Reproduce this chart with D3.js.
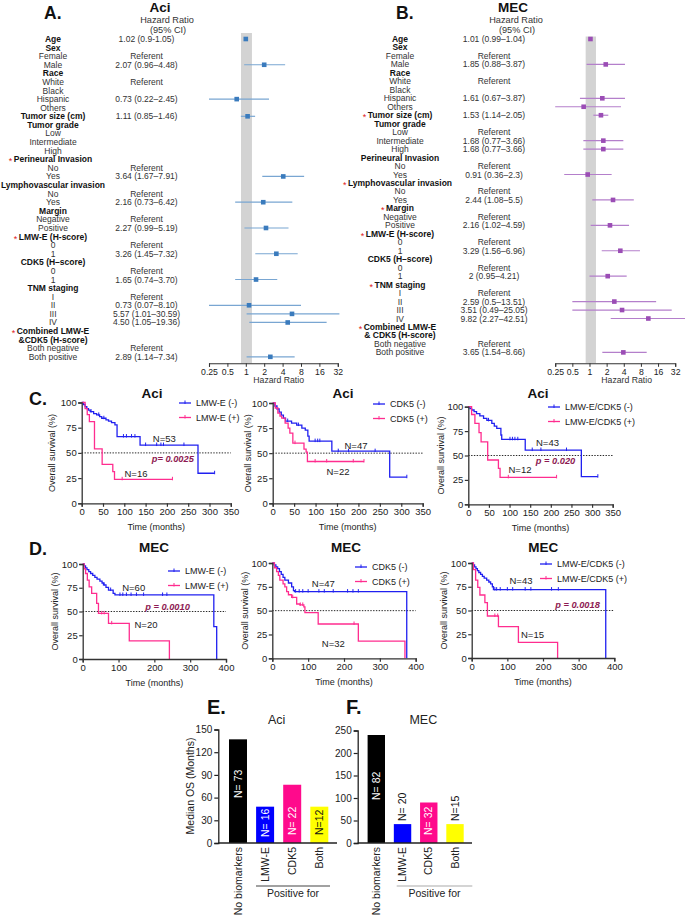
<!DOCTYPE html>
<html>
<head>
<meta charset="utf-8">
<script src="https://cdn.jsdelivr.net/npm/d3@7"></script>
<style>
body { margin: 0; background: #fff; }
svg { display: block; font-family: "Liberation Sans", Arial, Helvetica, sans-serif; }
</style>
</head>
<body>
<svg id="fig" width="685" height="916"></svg>
<script>
// ---------------- data ----------------
// forest plots (A = Aci, B = MEC): one entry per row
const aciLabels = ["Age","Sex","Female","Male","Race","White","Black","Hispanic","Others","Tumor size (cm)","Tumor grade","Low","Intermediate","High","Perineural Invasion","No","Yes","Lymphovascular invasion","No","Yes","Margin","Negative","Positive","LMW-E (H-score)","0","1","CDK5 (H\u2013score)","0","1","TNM staging","I","II","III","IV","Combined LMW-E","&CDK5 (H-score)","Both negative","Both positive"];
const mecLabels = aciLabels.map((d, i) => i === 35 ? "& CDK5 (H-score)" : d);
const headerRows = [0, 1, 4, 9, 10, 14, 17, 20, 23, 26, 29, 34, 35];
const aciStarRows = [14, 23, 34];
const mecStarRows = [9, 17, 20, 23, 29, 34];

const aciHRText = {0:"1.02 (0.9-1.05)",2:"Referent",3:"2.07 (0.96\u20134.48)",5:"Referent",7:"0.73 (0.22\u20132.45)",9:"1.11 (0.85\u20131.46)",15:"Referent",16:"3.64 (1.67\u20137.91)",18:"Referent",19:"2.16 (0.73\u20136.42)",21:"Referent",22:"2.27 (0.99\u20135.19)",24:"Referent",25:"3.26 (1.45\u20137.32)",27:"Referent",28:"1.65 (0.74\u20133.70)",30:"Referent",31:"0.73 (0.07\u20138.10)",32:"5.57 (1.01\u201330.59)",33:"4.50 (1.05\u201319.36)",36:"Referent",37:"2.89 (1.14\u20137.34)"};
const mecHRText = {0:"1.01 (0.99\u20131.04)",2:"Referent",3:"1.85 (0.88\u20133.87)",5:"Referent",7:"1.61 (0.67\u20133.87)",9:"1.53 (1.14\u20132.05)",11:"Referent",12:"1.68 (0.77\u20133.66)",13:"1.68 (0.77\u20133.66)",15:"Referent",16:"0.91 (0.36\u20132.3)",18:"Referent",19:"2.44 (1.08\u20135.5)",21:"Referent",22:"2.16 (1.02\u20134.59)",24:"Referent",25:"3.29 (1.56\u20136.96)",27:"Referent",28:"2 (0.95\u20134.21)",30:"Referent",31:"2.59 (0.5\u201313.51)",32:"3.51 (0.49\u201325.05)",33:"9.82 (2.27\u201342.51)",36:"Referent",37:"3.65 (1.54\u20138.66)"};

// plotted estimates [row, hr, lower, upper] as read off the markers
const aciMarks = [[0,1.0,0.99,1.03],[3,2.0,0.94,4.4],[7,0.71,0.21,2.4],[9,1.07,0.83,1.42],[16,4.1,1.86,9.0],[19,1.93,0.67,5.77],[22,2.14,0.95,5.0],[25,3.16,1.43,7.06],[28,1.47,0.67,3.27],[31,1.13,0.16,8.0],[32,5.7,1.03,34],[33,4.85,1.14,21],[37,2.52,1.03,6.3]];
const mecMarks = [[0,1.04,1.02,1.06],[3,1.93,0.89,4.2],[7,1.68,0.68,4.2],[8,0.79,0.18,3.57],[9,1.59,1.17,2.14],[12,1.75,0.78,3.93],[13,1.75,0.78,3.93],[16,0.93,0.36,2.45],[19,2.59,1.12,6.0],[22,2.29,1.05,4.95],[25,3.48,1.64,7.7],[28,2.09,1.0,4.5],[31,2.73,0.5,14.8],[32,3.73,0.5,27.8],[33,10.8,2.36,60],[37,3.93,1.68,10.1]];
const hrTicks = [0.25, 0.5, 1, 2, 4, 8, 16, 32];

// Kaplan-Meier curves: [time (months), survival %] steps
const c1Neg = [[0,100],[4,98],[8,96],[12,94],[16,92.5],[20,91],[28,89],[35,87.7],[42,86],[47,84.4],[57,82.8],[63,81.5],[70,80],[78,77.8],[83,66.2],[137,57.8],[273,29.8],[312,29.8]];
const c1Pos = [[0,100],[8,94],[13,88],[18,81],[30,54],[48,38.7],[73,31.5],[77,23.8],[213,23.8]];
const c1NegCens = [22,40,52,98,105,117,125,150,176,186,192,240,312];
const c1PosCens = [95,213];
const c2Neg = [[0,100],[5,97],[10,94],[15,91],[20,88],[25,85],[30,82],[44,80],[56,78],[68,75],[76,73],[82,67],[85,62],[138,52],[273,26],[313,26]];
const c2Pos = [[0,100],[6,95],[12,90],[17,87],[21,85],[29,80],[36,75],[40,70],[47,60],[73,54],[78,51],[81,41.7],[213,41.7]];
const c2NegCens = [35,60,99,105,110,153,177,239,313];
const c2PosCens = [52,99,126,188,213];
const c3Neg = [[0,100],[4,98],[8,96.6],[14,95],[20,93],[28,90.5],[37,88],[45,86],[57,83],[63,80],[69,77.8],[79,71],[81,66.6],[138,55.6],[274,28.3],[314,28.3]];
const c3Pos = [[0,100],[8,92],[16,83],[26,73.4],[31,64],[47,45.4],[73,36.9],[77,27.6],[214,27.6]];
const c3NegCens = [49,101,107,113,120,155,176,238,314];
const c3PosCens = [97,214];
const d1Neg = [[0,100],[4,98],[8,96],[12,94],[17,92],[22,90],[28,88],[34,86],[40,84],[48,82],[54,80],[58,78],[65,75.4],[72,72.6],[85,69],[90,67.4],[366,34],[374,0]];
const d1Pos = [[0,100],[4,95],[8,90],[13,83],[18,76],[25,69],[39,58.6],[44,48],[72,37.5],[130,19],[242,0]];
const d1NegCens = [60,78,104,112,122,135,150,170,223,235];
const d1PosCens = [53,60,81];
const d2Neg = [[0,100],[5,98],[10,96],[15,94],[20,91],[25,88],[30,85],[35,82],[45,79],[54,75],[59,71],[62,70],[375,0]];
const d2Pos = [[0,100],[6,95],[12,91],[17,87],[21,82],[30,78],[35,75],[40,70],[45,66.7],[54,64],[68,57],[77,56],[88,54],[91,48],[128,36],[240,18],[370,0]];
const d2NegCens = [65,75,85,100,130,145,170,210,225,240];
const d2PosCens = [57,78,85,228];
const d3Neg = [[0,100],[4,98],[8,96],[12,94],[16,92],[20,90],[25,88],[30,86],[35,84],[42,82],[48,80],[53,78],[58,75],[61,72],[376,0]];
const d3Pos = [[0,100],[5,93],[11,82],[17,74.4],[23,66.3],[37,58.2],[44,44.2],[75,33],[131,16.5],[241,0]];
const d3NegCens = [65,70,80,100,115,150,166,224,243];
const d3PosCens = [65,73];

// median OS bars
const barCategories = ["No biomarkers", "LMW-E", "CDK5", "Both"];
const aciMedianOS = [137, 48, 77, 48];
const aciBarN = ["N= 73", "N= 16", "N= 22", "N=12"];
const mecMedianOS = [240, 42, 90, 42];
const mecBarN = ["N= 82", "N= 20", "N= 32", "N=15"];
const aciOSTicks = [0, 30, 60, 90, 120, 150];
const mecOSTicks = [0, 50, 100, 150, 200, 250];

// ---------------- drawing ----------------
const svg = d3.select("#fig");
const BLUE = "#2020f0", PINK = "#ff2d8f";

function txt(g, x, y, s, size, opts = {}) {
  const t = g.append("text").attr("x", x).attr("y", y).attr("font-size", size)
    .attr("text-anchor", opts.anchor || "middle").attr("fill", opts.fill || "#111").text(s);
  if (opts.bold) t.attr("font-weight", "bold");
  if (opts.italic) t.attr("font-style", "italic");
  if (opts.rotate) t.attr("transform", `rotate(-90,${x},${y})`);
  return t;
}

function forest(c) {
  const g = svg.append("g");
  const x = d3.scaleLog().base(2).domain([0.25, 32]).range(c.range);
  const rowY = i => c.y0 + i * c.step;
  g.append("rect").attr("x", x(c.band[0])).attr("width", x(c.band[1]) - x(c.band[0]))
    .attr("y", c.bandTop).attr("height", c.axisY - c.bandTop).attr("fill", "#d3d3d3");

  c.labels.forEach((d, i) => {
    const t = txt(g, c.labelX, rowY(i) + 3, d, 8.5, { bold: headerRows.includes(i), fill: headerRows.includes(i) ? "#111" : "#333" });
    if (c.stars.includes(i)) {
      const w = t.node().getComputedTextLength();
      txt(g, c.labelX - w / 2 - 1.5, rowY(i) + 5, "*", 9, { anchor: "end", fill: "#e02020" });
    }
  });
  Object.entries(c.hrText).forEach(([i, s]) => txt(g, c.textX, rowY(+i) + 3, s, 8.5, { fill: "#333" }));

  const xr = v => Math.max(c.range[0], Math.min(c.clipRight, x(v)));
  g.selectAll(".ci").data(c.marks).join("line")
    .attr("x1", d => xr(d[2])).attr("x2", d => xr(d[3]))
    .attr("y1", d => rowY(d[0])).attr("y2", d => rowY(d[0]))
    .attr("stroke", c.lineColor).attr("stroke-width", 1.2);
  g.selectAll(".pt").data(c.marks).join("rect")
    .attr("x", d => x(d[1]) - 2.3).attr("y", d => rowY(d[0]) - 2.3)
    .attr("width", 4.6).attr("height", 4.6).attr("fill", c.dotColor);

  const ax = g.append("g").attr("transform", `translate(0,${c.axisY})`)
    .call(d3.axisBottom(x).tickValues(hrTicks).tickFormat(d => d).tickSize(3.5).tickPadding(2));
  ax.select(".domain").attr("stroke", "#333").attr("stroke-width", 1.1);
  ax.selectAll(".tick line").attr("stroke", "#333");
  ax.selectAll("text").attr("font-size", 8.7).attr("fill", "#222").attr("font-family", null);
  txt(g, c.axisTitleX, c.axisY + 20, "Hazard Ratio", 8.7, { fill: "#333" });

  txt(g, c.panelX, 18.5, c.panel, 17.5, { bold: true, anchor: "start" });
  txt(g, c.titleX, 12, c.title, 13.5, { bold: true });
  txt(g, c.hdrX, 23, "Hazard Ratio", 9.2, { fill: "#333" });
  txt(g, c.hdrX + 1, 33.2, "(95% CI)", 9.2, { fill: "#333" });
}

forest({ labels: aciLabels, stars: aciStarRows, hrText: aciHRText, marks: aciMarks,
  labelX: 53, textX: 146.5, y0: 39, step: 8.59, range: [209, 337.8], clipRight: 340,
  band: [0.835, 1.26], bandTop: 33, axisY: 363.3, axisTitleX: 278.7,
  lineColor: "#79a6d2", dotColor: "#3a7bbd",
  panel: "A.", panelX: 44, title: "Aci", titleX: 160, hdrX: 167 });
forest({ labels: mecLabels, stars: mecStarRows, hrText: mecHRText, marks: mecMarks,
  labelX: 400, textX: 494, y0: 39, step: 8.47, range: [555.2, 675.2], clipRight: 685,
  band: [0.857, 1.3], bandTop: 36.5, axisY: 363.3, axisTitleX: 626.7,
  lineColor: "#b47fcb", dotColor: "#9b4db5",
  panel: "B.", panelX: 396, title: "MEC", titleX: 513, hdrX: 516 });

function survAt(steps, t) {
  let s = steps[0][1];
  for (const p of steps) if (p[0] <= t) s = p[1];
  return s;
}

function km(c) {
  const g = svg.append("g");
  const x = d3.scaleLinear().domain([0, c.tmax]).range([c.x0, c.x1]);
  const y = d3.scaleLinear().domain([0, 100]).range([c.y0, c.y100]);
  g.append("line").attr("x1", x(0)).attr("x2", x(c.tmax)).attr("y1", y(50)).attr("y2", y(50))
    .attr("stroke", "#111").attr("stroke-width", 0.9).attr("stroke-dasharray", "1.4,1.4");
  const line = d3.line().x(d => x(d[0])).y(d => y(d[1])).curve(d3.curveStepAfter);
  [[c.neg, c.negCens, BLUE], [c.pos, c.posCens, PINK]].forEach(([steps, cens, col]) => {
    g.append("path").attr("d", line(steps)).attr("fill", "none").attr("stroke", col).attr("stroke-width", 1.3);
    g.selectAll(null).data(cens).join("line")
      .attr("x1", t => x(t)).attr("x2", t => x(t))
      .attr("y1", t => y(survAt(steps, t)) - 2.5).attr("y2", t => y(survAt(steps, t)) + 1)
      .attr("stroke", col).attr("stroke-width", 1);
  });
  const ay = g.append("g").attr("transform", `translate(${c.x0},0)`)
    .call(d3.axisLeft(y).tickValues([0, 25, 50, 75, 100]).tickSize(3.5).tickPadding(1.5));
  const axx = g.append("g").attr("transform", `translate(0,${c.y0})`)
    .call(d3.axisBottom(x).tickValues(d3.range(0, c.tmax + 1, c.tstep)).tickSize(3.5).tickPadding(1.5));
  [ay, axx].forEach(a => {
    a.select(".domain").attr("stroke", "#333").attr("stroke-width", 1.3);
    a.selectAll(".tick line").attr("stroke", "#333").attr("stroke-width", 1.2);
    a.selectAll("text").attr("font-size", 9.5).attr("fill", "#222").attr("font-family", null);
  });
  txt(g, c.ylabX, (c.y0 + c.y100) / 2, "Overall survival (%)", 9, { rotate: true, fill: "#222" });
  txt(g, (c.x0 + c.x1) / 2, c.y0 + 27, "Time (months)", 9, { fill: "#222" });
  txt(g, c.titleX, c.titleY, c.title, 13.5, { bold: true });
  c.legend.names.forEach((nm, i) => {
    const ly = c.legend.y + i * 14.5, col = i === 0 ? BLUE : PINK;
    g.append("line").attr("x1", c.legend.x).attr("x2", c.legend.x + 12).attr("y1", ly).attr("y2", ly)
      .attr("stroke", col).attr("stroke-width", 1.3);
    g.append("line").attr("x1", c.legend.x + 6).attr("x2", c.legend.x + 6).attr("y1", ly - 2.5).attr("y2", ly + 1)
      .attr("stroke", col).attr("stroke-width", 1);
    txt(g, c.legend.x + 17, ly + 3.3, nm, 9, { anchor: "start", fill: "#222" });
  });
  c.notes.forEach(n => txt(g, n[1], n[2] + 3.3, n[0], 9.5, { fill: "#222" }));
  if (c.p) txt(g, c.p[1], c.p[2] + 3.3, c.p[0], 9.3, { bold: true, italic: true, fill: "#8e1a52" });
}

const cLeg = ["LMW-E (-)", "LMW-E (+)"], kLeg = ["CDK5 (-)", "CDK5 (+)"], bLeg = ["LMW-E/CDK5 (-)", "LMW-E/CDK5 (+)"];
km({ neg: c1Neg, pos: c1Pos, negCens: c1NegCens, posCens: c1PosCens, tmax: 350, tstep: 50,
  x0: 81.7, x1: 230.8, y0: 503.3, y100: 402.5, ylabX: 55, title: "Aci", titleX: 152, titleY: 398,
  legend: { x: 179, y: 403, names: cLeg }, notes: [["N=53", 164.3, 438.3], ["N=16", 136, 473.3]], p: ["p= 0.0025", 172.8, 458.3] });
km({ neg: c2Neg, pos: c2Pos, negCens: c2NegCens, posCens: c2PosCens, tmax: 350, tstep: 50,
  x0: 272.7, x1: 422.7, y0: 503.3, y100: 403, ylabX: 251, title: "Aci", titleX: 343, titleY: 398,
  legend: { x: 373, y: 404, names: kLeg }, notes: [["N=47", 356, 445.7], ["N=22", 338, 472]] });
km({ neg: c3Neg, pos: c3Pos, negCens: c3NegCens, posCens: c3PosCens, tmax: 350, tstep: 50,
  x0: 468.3, x1: 612.7, y0: 504.3, y100: 406.7, ylabX: 444, title: "Aci", titleX: 538, titleY: 398,
  legend: { x: 548, y: 407, names: bLeg }, notes: [["N=43", 547.5, 442.7], ["N=12", 520, 470]], p: ["p = 0.020", 555.5, 460.7] });
km({ neg: d1Neg, pos: d1Pos, negCens: d1NegCens, posCens: d1PosCens, tmax: 400, tstep: 100,
  x0: 82.7, x1: 226, y0: 659, y100: 564, ylabX: 58, title: "MEC", titleX: 154, titleY: 552,
  legend: { x: 168, y: 571, names: cLeg }, notes: [["N=60", 133.7, 587.3], ["N=20", 146, 624.3]], p: ["p = 0.0010", 167.5, 606.7] });
km({ neg: d2Neg, pos: d2Pos, negCens: d2NegCens, posCens: d2PosCens, tmax: 400, tstep: 100,
  x0: 272.3, x1: 415.7, y0: 658.3, y100: 563, ylabX: 248, title: "MEC", titleX: 346, titleY: 551.5,
  legend: { x: 355, y: 567, names: kLeg }, notes: [["N=47", 323.3, 584], ["N=32", 333.3, 643.3]] });
km({ neg: d3Neg, pos: d3Pos, negCens: d3NegCens, posCens: d3PosCens, tmax: 400, tstep: 100,
  x0: 471.7, x1: 614.3, y0: 658, y100: 563, ylabX: 446.5, title: "MEC", titleX: 543.3, titleY: 551.5,
  legend: { x: 540, y: 564, names: bLeg }, notes: [["N=43", 521, 581], ["N=15", 532.5, 634.3]], p: ["p = 0.0018", 577.5, 605] });

txt(svg, 29, 405, "C.", 18, { bold: true, anchor: "start" });
txt(svg, 29, 555, "D.", 18, { bold: true, anchor: "start" });

// ---------------- bar charts ----------------
const barFill = ["#000000", "#0000ff", "#ff0a8c", "#ffff00"];
function bars(c) {
  const g = svg.append("g");
  const x = d3.scalePoint().domain(barCategories).range(c.centers);
  const y = d3.scaleLinear().domain([0, c.ymax]).range([843, c.ytop]);
  g.selectAll("rect").data(c.values).join("rect")
    .attr("x", (d, i) => x(barCategories[i]) - c.bw / 2).attr("width", c.bw)
    .attr("y", d => y(d)).attr("height", d => y(0) - y(d)).attr("fill", (d, i) => barFill[i]);
  const ay = g.append("g").attr("transform", `translate(${c.axisX},0)`)
    .call(d3.axisLeft(y).tickValues(c.ticks).tickSize(4).tickPadding(2));
  ay.select(".domain").attr("stroke", "#222").attr("stroke-width", 1.3);
  ay.selectAll(".tick line").attr("stroke", "#222").attr("stroke-width", 1.2);
  ay.selectAll("text").attr("font-size", 10).attr("fill", "#222").attr("font-family", null);
  g.append("line").attr("x1", c.axisX).attr("x2", c.xEnd).attr("y1", 843).attr("y2", 843)
    .attr("stroke", "#222").attr("stroke-width", 1.3);
  barCategories.forEach((cat, i) => {
    txt(g, x(cat) + 3.5, 847, cat, 10.5, { rotate: true, anchor: "end", fill: "#222" });
    const inside = c.nInside[i];
    txt(g, x(cat) + 3.5, c.nBottom[i], c.nLabels[i], 10.5,
      { rotate: true, anchor: "start", fill: inside && i < 3 ? "#fff" : "#111" });
  });
  g.append("line").attr("x1", c.posLine[0]).attr("x2", c.posLine[1]).attr("y1", 886).attr("y2", 886)
    .attr("stroke", c.posColor).attr("stroke-width", 1.2);
  txt(g, (c.posLine[0] + c.posLine[1]) / 2, 897, "Positive for", 10.5, { fill: "#222" });
  txt(g, c.titleX, 724, c.title, 12.5, { fill: "#222" });
  txt(g, c.panelX, 714, c.panel, 20, { bold: true, anchor: "start" });
}

bars({ values: aciMedianOS, nLabels: aciBarN, nInside: [true, true, true, true], nBottom: [798, 837, 835, 835],
  ymax: 150, ytop: 729.5, ticks: aciOSTicks, centers: [238, 319.3], bw: 18, axisX: 218.3, xEnd: 337,
  posLine: [256, 330], posColor: "#444", title: "Aci", titleX: 276.7, panel: "E.", panelX: 207 });
bars({ values: mecMedianOS, nLabels: mecBarN, nInside: [true, false, true, false], nBottom: [800, 821, 835, 821],
  ymax: 250, ytop: 730.5, ticks: mecOSTicks, centers: [376.3, 455], bw: 17.4, axisX: 357.7, xEnd: 472,
  posLine: [396.7, 472.3], posColor: "#aaa", title: "MEC", titleX: 423.3, panel: "F.", panelX: 346 });
txt(svg, 194, 786, "Median OS (Months)", 10.5, { rotate: true, fill: "#222" });
</script>
</body>
</html>
